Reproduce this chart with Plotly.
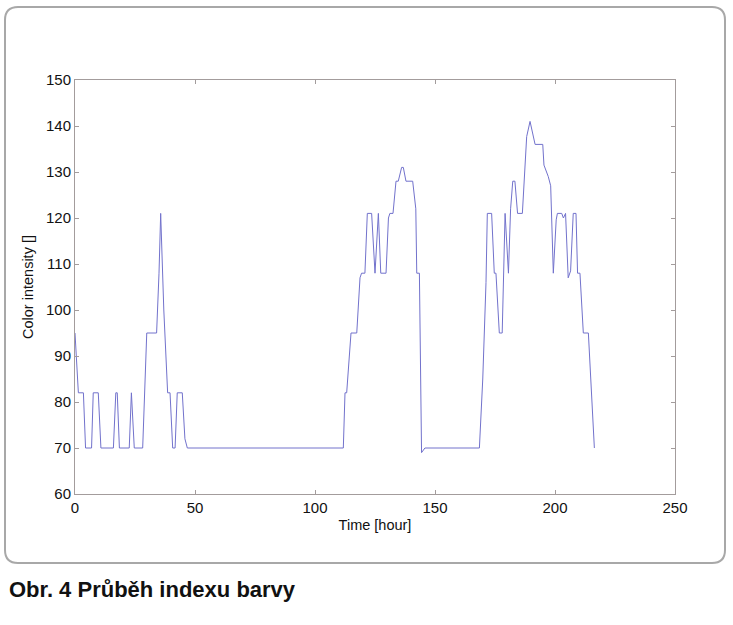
import plotly.graph_objects as go

# (time in hours, colour intensity)
time_h = [0, 1.4, 3.5, 4.4, 6.9, 7.6, 9.7, 10.8, 16, 17, 17.6, 18.5, 22.6, 23.5, 24.7,
          28.2, 29.9, 34, 35, 35.7, 37, 38.6, 39.6, 40.7, 41.7, 42.6, 44.7, 45.8, 46.8,
          111.8, 112.5, 113.2, 115, 117.4, 118.75, 119.4, 120.8, 121.8, 123.6, 125, 126.4,
          127.4, 129.6, 130.6, 131.2, 132.5, 133.75, 134.7, 136.1, 136.8, 137.9, 140.7,
          142, 142.4, 143.5, 144.4, 145.8,
          168.5, 169.9, 170.8, 171.25, 171.8, 173.6, 174.7, 175.4, 176.8, 178, 179.2, 180.6,
          181.5, 182.4, 183.3, 184.4, 186.4, 188.2, 189.6, 191.7, 194.9, 195.4, 197.2, 198.2,
          199.3, 200.5, 201, 202.8, 203.5, 204.4, 205.5, 206.5, 207.6, 208.75, 209.4, 210.4,
          211.8, 213.9, 216.4]
intensity = [95, 82, 82, 70, 70, 82, 82, 70, 70, 82, 82, 70, 70, 82, 70,
             70, 95, 95, 108, 121, 100, 82, 82, 70, 70, 82, 82, 72, 70,
             70, 82, 82, 95, 95, 107, 108, 108, 121, 121, 108, 121,
             108, 108, 120, 121, 121, 128, 128, 131, 131, 128, 128,
             122, 108, 108, 69, 70,
             70, 85, 98, 106, 121, 121, 108, 108, 95, 95, 121, 108,
             122, 128, 128, 121, 121, 137.7, 141, 136, 136, 131.5, 129, 127,
             108, 119.6, 121, 121, 120, 121, 107, 108.5, 121, 121, 108, 108,
             95, 95, 70]

x_ticks = [0, 50, 100, 150, 200, 250]
y_ticks = [60, 70, 80, 90, 100, 110, 120, 130, 140, 150]
x_title = "Time [hour]"
y_title = "Color intensity []"
caption = "Obr. 4 Průběh indexu barvy"

W, H = 733, 625
L, R, T, B = 75, 58, 80, 131
PW, PH = W - L - R, H - T - B


def px(xp):
    return (xp - L) / PW


def py(yp):
    return (H - B - yp) / PH


FONT = "Liberation Sans, Arial, Helvetica, sans-serif"

fig = go.Figure()
fig.add_trace(go.Scatter(x=time_h, y=intensity, mode="lines",
                         line=dict(color="#7272cc", width=1), hoverinfo="skip",
                         showlegend=False))

axis_common = dict(showgrid=False, zeroline=False, showline=True, linecolor="#a39c9c",
                   linewidth=1, mirror="ticks", ticks="inside", ticklen=4,
                   tickcolor="#a39c9c",
                   tickfont=dict(family=FONT, size=15, color="#111111"))

fig.update_xaxes(range=[0, 250], tickvals=x_ticks, **axis_common,
                 title=dict(text=x_title, standoff=4,
                            font=dict(family=FONT, size=14.5, color="#111111")))
fig.update_yaxes(range=[60, 150], tickvals=y_ticks, **axis_common,
                 title=dict(text=y_title, standoff=8,
                            font=dict(family=FONT, size=14.5, color="#111111")))

# rounded frame
x0, x1, y0, y1, r = 5, 725, 7, 563, 13
path = (f"M {px(x0 + r)} {py(y0)} L {px(x1 - r)} {py(y0)} "
        f"Q {px(x1)} {py(y0)} {px(x1)} {py(y0 + r)} "
        f"L {px(x1)} {py(y1 - r)} Q {px(x1)} {py(y1)} {px(x1 - r)} {py(y1)} "
        f"L {px(x0 + r)} {py(y1)} Q {px(x0)} {py(y1)} {px(x0)} {py(y1 - r)} "
        f"L {px(x0)} {py(y0 + r)} Q {px(x0)} {py(y0)} {px(x0 + r)} {py(y0)} Z")
fig.add_shape(type="path", path=path, xref="paper", yref="paper",
              line=dict(color="#a8a8a8", width=2), layer="below")

fig.add_annotation(text=f"<b>{caption}</b>", xref="paper", yref="paper",
                   x=px(7), y=py(589), xanchor="left", yanchor="middle",
                   showarrow=False,
                   font=dict(family=FONT, size=22, color="#111111"))

fig.update_layout(width=W, height=H, autosize=False,
                  margin=dict(l=L, r=R, t=T, b=B, pad=0),
                  paper_bgcolor="white", plot_bgcolor="white")

fig.write_html("out.html", config={"displayModeBar": False},
               post_script="document.body.style.margin='0';document.body.style.overflow='hidden';")
